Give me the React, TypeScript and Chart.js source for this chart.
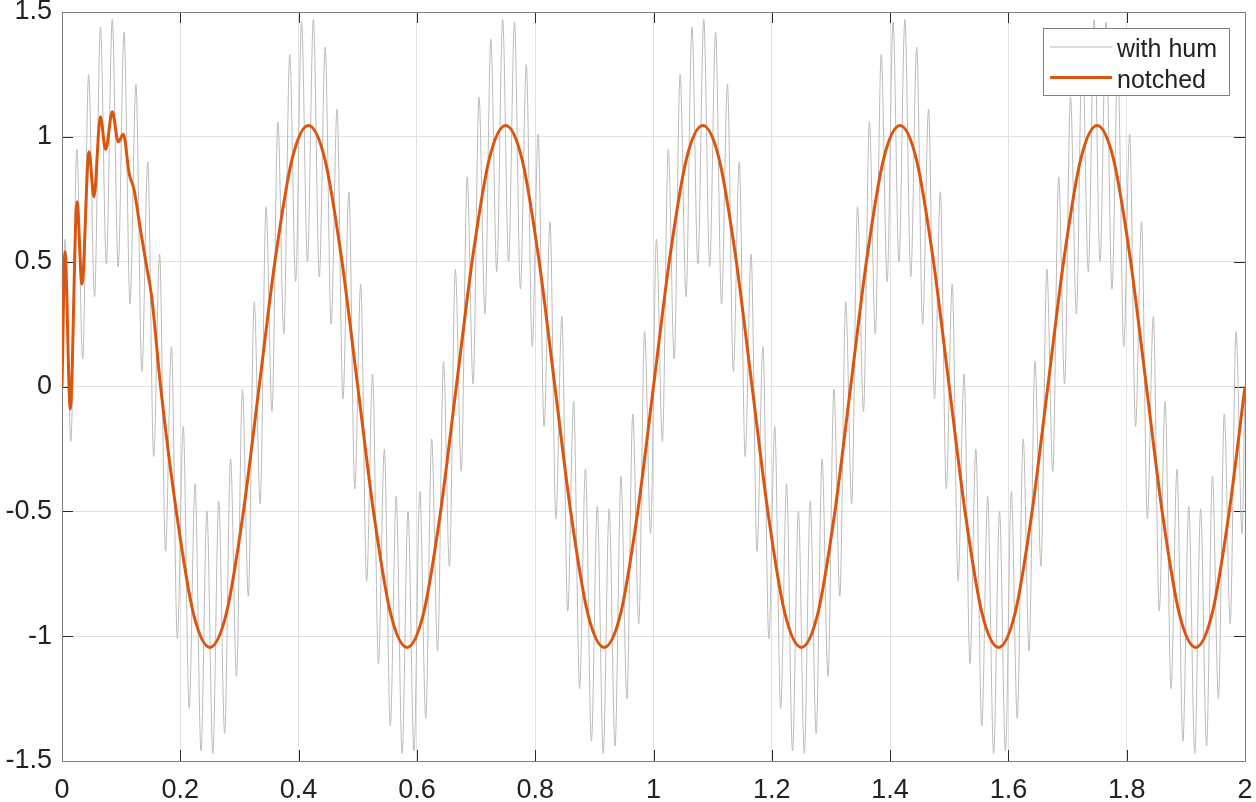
import React, { useEffect, useRef } from "react";
import { Chart, registerables } from "chart.js";

Chart.register(...registerables);

// ---------- data ----------
// "with hum": values at the hum extrema, sampled every 0.01 s starting at t = 0.005 s
const HUM_T0 = 0.005;
const HUM_DT = 0.01;
const HUM_START = 0; // value at t = 0
const HUM_END = 0; // value at t = 2
const HUM_SIGNAL = [
  0.59, -0.22, 0.95, 0.11, 1.25, 0.36, 1.44, 0.49, 1.47, 0.48,
  1.42, 0.33, 1.21, 0.06, 0.9, -0.28, 0.53, -0.66, 0.16, -1.01,
  -0.16, -1.29, -0.39, -1.46, -0.5, -1.47, -0.46, -1.39, -0.29, -1.16,
  -0.01, -0.84, 0.34, -0.47, 0.72, -0.1, 1.06, 0.21, 1.33, 0.42,
  1.46, 0.5, 1.47, 0.44, 1.36, 0.25, 1.11, -0.05, 0.78, -0.41,
  0.41, -0.78, 0.05, -1.11, -0.25, -1.36, -0.44, -1.47, -0.5, -1.46,
  -0.42, -1.33, -0.21, -1.06, 0.1, -0.72, 0.47, -0.34, 0.84, 0.01,
  1.16, 0.29, 1.39, 0.46, 1.47, 0.5, 1.46, 0.39, 1.29, 0.16,
  1.01, -0.16, 0.66, -0.53, 0.28, -0.9, -0.06, -1.21, -0.33, -1.42,
  -0.48, -1.47, -0.49, -1.44, -0.36, -1.25, -0.11, -0.95, 0.22, -0.59,
  0.59, -0.22, 0.95, 0.11, 1.25, 0.36, 1.44, 0.49, 1.47, 0.48,
  1.42, 0.33, 1.21, 0.06, 0.9, -0.28, 0.53, -0.66, 0.16, -1.01,
  -0.16, -1.29, -0.39, -1.46, -0.5, -1.47, -0.46, -1.39, -0.29, -1.16,
  -0.01, -0.84, 0.34, -0.47, 0.72, -0.1, 1.06, 0.21, 1.33, 0.42,
  1.46, 0.5, 1.47, 0.44, 1.36, 0.25, 1.11, -0.05, 0.78, -0.41,
  0.41, -0.78, 0.05, -1.11, -0.25, -1.36, -0.44, -1.47, -0.5, -1.46,
  -0.42, -1.33, -0.21, -1.06, 0.1, -0.72, 0.47, -0.34, 0.84, 0.01,
  1.16, 0.29, 1.39, 0.46, 1.47, 0.5, 1.46, 0.39, 1.29, 0.16,
  1.01, -0.16, 0.66, -0.53, 0.28, -0.9, -0.06, -1.21, -0.33, -1.42,
  -0.48, -1.47, -0.49, -1.44, -0.36, -1.25, -0.11, -0.95, 0.22, -0.59,
];

// "notched": start-up transient (irregular times)
const NOTCH_TRANSIENT_T = [
  0, 0.005, 0.014, 0.0254, 0.0338, 0.0456, 0.054, 0.0648, 0.0738, 0.085,
  0.0952, 0.1036, 0.1138, 0.1217, 0.1318, 0.1431, 0.1516,
];
const NOTCH_TRANSIENT_Y = [
  0, 0.54, -0.09, 0.74, 0.41, 0.94, 0.76, 1.08, 0.95, 1.1,
  0.98, 1.01, 0.85, 0.79, 0.64, 0.48, 0.36,
];
// "notched": steady part, sampled every 1/36 s from t = 1/6 s
const NOTCH_STEADY_T0 = 1 / 6;
const NOTCH_STEADY_DT = 1 / 36;
const NOTCH_STEADY = [
  0, -0.52, -0.91, -1.045, -0.91, -0.52, 0, 0.52, 0.91, 1.045, 0.91, 0.52,
  0, -0.52, -0.91, -1.045, -0.91, -0.52, 0, 0.52, 0.91, 1.045, 0.91, 0.52,
  0, -0.52, -0.91, -1.045, -0.91, -0.52, 0, 0.52, 0.91, 1.045, 0.91, 0.52,
  0, -0.52, -0.91, -1.045, -0.91, -0.52, 0, 0.52, 0.91, 1.045, 0.91, 0.52,
  0, -0.52, -0.91, -1.045, -0.91, -0.52, 0, 0.52, 0.91, 1.045, 0.91, 0.52,
  0, -0.52, -0.91, -1.045, -0.91, -0.52, 0,
];

const X_TICKS = [0, 0.2, 0.4, 0.6, 0.8, 1, 1.2, 1.4, 1.6, 1.8, 2];
const Y_TICKS = [-1.5, -1, -0.5, 0, 0.5, 1, 1.5];
const SERIES_NAMES = ["with hum", "notched"];

// ---------- styles ----------
const FONT = '"Liberation Sans", Arial, Helvetica, sans-serif';
const TEXT_COLOR = "#222222";
const GRAY = "#bcbcbc";
const ORANGE = "#DC550F";

const framePlugin = {
  id: "matlabFrame",
  beforeDatasetsDraw(chart: any) {
    const { ctx, chartArea: a, scales } = chart;
    ctx.save();
    ctx.lineWidth = 1;
    ctx.strokeStyle = "#2a2a2a";
    ctx.beginPath();
    const tl = 11;
    X_TICKS.forEach((v) => {
      const x = Math.round(scales.x.getPixelForValue(v)) + 0.5;
      ctx.moveTo(x, a.bottom);
      ctx.lineTo(x, a.bottom - tl);
      ctx.moveTo(x, a.top);
      ctx.lineTo(x, a.top + tl);
    });
    Y_TICKS.forEach((v) => {
      const y = Math.round(scales.y.getPixelForValue(v)) + 0.5;
      ctx.moveTo(a.left, y);
      ctx.lineTo(a.left + tl, y);
      ctx.moveTo(a.right, y);
      ctx.lineTo(a.right - tl, y);
    });
    ctx.stroke();
    ctx.strokeStyle = "#808080";
    ctx.strokeRect(a.left + 0.5, a.top + 0.5, a.right - a.left, a.bottom - a.top);
    ctx.restore();
  },
  afterDraw(chart: any) {
    const { ctx } = chart;
    ctx.save();
    const bx = 1043, by = 28, bw = 186, bh = 67;
    ctx.fillStyle = "#ffffff";
    ctx.fillRect(bx, by, bw, bh);
    ctx.strokeStyle = "#808080";
    ctx.lineWidth = 1;
    ctx.strokeRect(bx + 0.5, by + 0.5, bw, bh);
    const rows = [
      { y: 47, color: GRAY, width: 1, label: SERIES_NAMES[0], base: 57 },
      { y: 77.5, color: ORANGE, width: 3, label: SERIES_NAMES[1], base: 87.5 },
    ];
    rows.forEach((r) => {
      ctx.strokeStyle = r.color;
      ctx.lineWidth = r.width;
      ctx.beginPath();
      ctx.moveTo(1050, r.y);
      ctx.lineTo(1112, r.y);
      ctx.stroke();
      ctx.fillStyle = TEXT_COLOR;
      ctx.font = `25px ${FONT}`;
      ctx.textBaseline = "alphabetic";
      ctx.textAlign = "left";
      ctx.fillText(r.label, 1117, r.base);
    });
    ctx.restore();
  },
};

export default function App() {
  const canvasRef = useRef<HTMLCanvasElement | null>(null);

  useEffect(() => {
    const canvas = canvasRef.current;
    if (!canvas) return;

    const humData = [
      { x: 0, y: HUM_START },
      ...HUM_SIGNAL.map((v, j) => ({ x: HUM_T0 + j * HUM_DT, y: v })),
      { x: 2, y: HUM_END },
    ];
    const notchData = [
      ...NOTCH_TRANSIENT_T.map((t, i) => ({ x: t, y: NOTCH_TRANSIENT_Y[i] })),
      ...NOTCH_STEADY.map((v, k) => ({ x: NOTCH_STEADY_T0 + k * NOTCH_STEADY_DT, y: v })),
    ];

    const tickFont = { family: FONT, size: 27 };
    const gridColor = "#e2e2e2";

    const chart = new Chart(canvas, {
      type: "line",
      data: {
        datasets: [
          {
            label: SERIES_NAMES[1],
            data: notchData,
            borderColor: ORANGE,
            borderWidth: 3,
            pointRadius: 0,
            cubicInterpolationMode: "monotone",
            fill: false,
          },
          {
            label: SERIES_NAMES[0],
            data: humData,
            borderColor: GRAY,
            borderWidth: 1,
            pointRadius: 0,
            cubicInterpolationMode: "monotone",
            fill: false,
          },
        ],
      },
      options: {
        responsive: false,
        animation: false,
        devicePixelRatio: 1,
        layout: { padding: { top: 12, right: 11, left: 0, bottom: 0 } },
        plugins: { legend: { display: false }, tooltip: { enabled: false } },
        elements: { point: { radius: 0 } },
        scales: {
          x: {
            type: "linear",
            min: 0,
            max: 2,
            afterBuildTicks: (s: any) => {
              s.ticks = X_TICKS.map((v) => ({ value: v }));
            },
            afterFit: (s: any) => {
              s.height = 41;
              s.paddingLeft = 0;
              s.paddingRight = 0;
            },
            ticks: {
              callback: (v: any) => String(v),
              font: tickFont,
              color: TEXT_COLOR,
              padding: 13,
              maxRotation: 0,
              autoSkip: false,
            },
            grid: { color: gridColor, drawTicks: false },
            border: { display: false },
          },
          y: {
            type: "linear",
            min: -1.5,
            max: 1.5,
            afterBuildTicks: (s: any) => {
              s.ticks = Y_TICKS.map((v) => ({ value: v }));
            },
            afterFit: (s: any) => {
              s.width = 62;
              s.paddingTop = 0;
              s.paddingBottom = 0;
            },
            ticks: {
              callback: (v: any) => String(v),
              font: tickFont,
              color: TEXT_COLOR,
              padding: 10,
              autoSkip: false,
            },
            grid: { color: gridColor, drawTicks: false },
            border: { display: false },
          },
        },
      },
      plugins: [framePlugin],
    } as any);

    return () => chart.destroy();
  }, []);

  return (
    <div style={{ position: "fixed", left: 0, top: 0, width: 1256, height: 802, background: "#fff" }}>
      <canvas ref={canvasRef} width={1256} height={802} style={{ display: "block" }} />
    </div>
  );
}
